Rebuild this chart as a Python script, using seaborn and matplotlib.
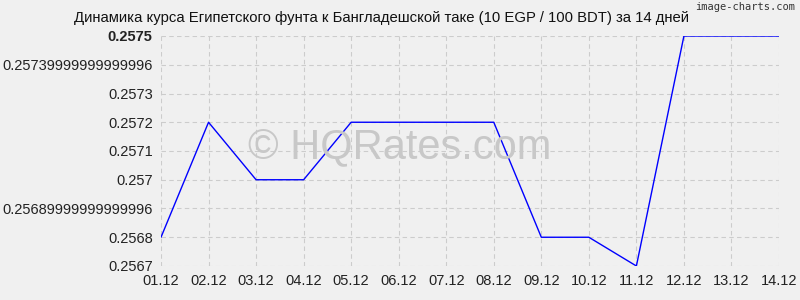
import matplotlib
matplotlib.use("Agg")
import matplotlib.pyplot as plt
import seaborn as sns
import pandas as pd
from matplotlib.ticker import FixedLocator, FixedFormatter

dates = ["01.12", "02.12", "03.12", "04.12", "05.12", "06.12", "07.12",
         "08.12", "09.12", "10.12", "11.12", "12.12", "13.12", "14.12"]
rates = [0.25680, 0.25720, 0.25700, 0.25700, 0.25720, 0.25720, 0.25720,
         0.25720, 0.25680, 0.25680, 0.25670, 0.25750, 0.25750, 0.25750]
ytick_values = [0.2567, 0.2568, 0.2569, 0.2570, 0.2571, 0.2572, 0.2573, 0.2574, 0.2575]
ytick_labels = ["0.2567", "0.2568", "0.25689999999999996", "0.257", "0.2571",
                "0.2572", "0.2573", "0.25739999999999996", "0.2575"]
title = "Динамика курса Египетского фунта к Бангладешской таке (10 EGP / 100 BDT) за 14 дней"

sns.set_theme(style="white")
plt.rcParams['font.family'] = ['Liberation Sans', 'DejaVu Sans']

bg = "#f0f0f0"
fig = plt.figure(figsize=(8, 3), dpi=100, facecolor=bg)
ax = fig.add_axes([161/800, 1-266/300, (779-161)/800, (266-36)/300])
ax.set_facecolor(bg)

fig.text(400/800, 1-147/300, "© HQRates.com", ha="center", va="center",
         fontsize=30, color="#c8c8c8", zorder=0)

df = pd.DataFrame({"x": range(len(dates)), "rate": rates})
sns.lineplot(data=df, x="x", y="rate", ax=ax, color="#0000ff", linewidth=1.0, zorder=3)

ax.set_xlim(0, len(dates) - 1)
ax.set_ylim(ytick_values[0], ytick_values[-1])
ax.xaxis.set_major_locator(FixedLocator(list(range(len(dates)))))
ax.xaxis.set_major_formatter(FixedFormatter(dates))
ax.yaxis.set_major_locator(FixedLocator(ytick_values))
ax.yaxis.set_major_formatter(FixedFormatter(ytick_labels))
ax.set_xlabel("")
ax.set_ylabel("")
ax.patch.set_alpha(0.0)

for s in ax.spines.values():
    s.set_visible(False)
ax.grid(True, color="#cccccc", linestyle=(0, (4, 3)), linewidth=0.8)
ax.set_axisbelow(True)
ax.tick_params(axis="both", which="major", labelsize=10.5, colors="#222222",
               length=4, width=0.8, direction="out", pad=2)
ax.tick_params(axis="both", color="#bbbbbb")
for lbl in ax.get_yticklabels():
    if lbl.get_text() == "0.2575":
        lbl.set_fontweight("bold")

fig.text(381/800, 1-18/300, title, ha="center", va="center", fontsize=10.7, color="#111111")
fig.text(795/800, 1-7/300, "image-charts.com", ha="right", va="center", fontsize=7.5,
         color="#333333", family=["DejaVu Sans Mono", "DejaVu Sans"])

fig.savefig("out.png", dpi=100, facecolor=bg)
